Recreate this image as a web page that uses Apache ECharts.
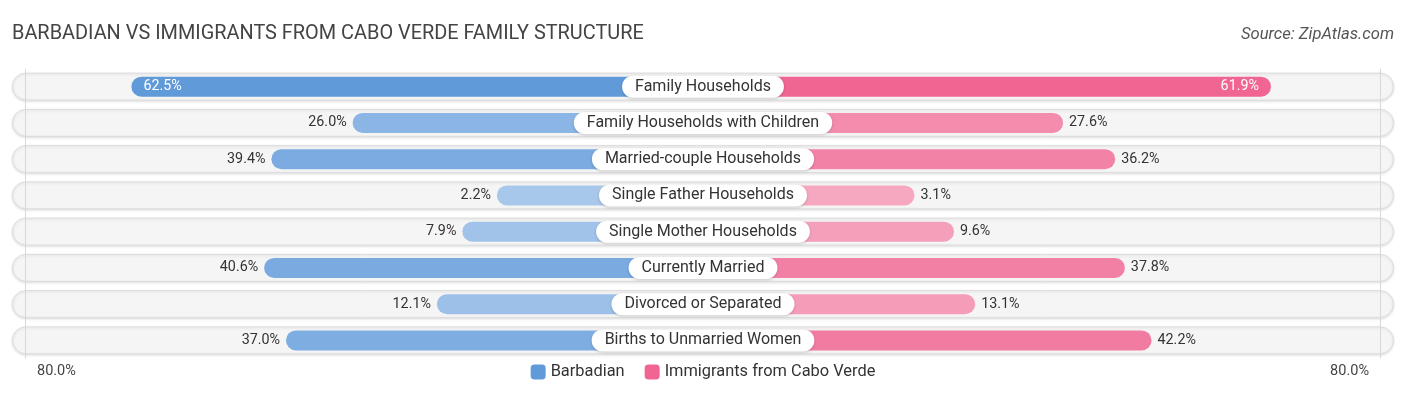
<!DOCTYPE html>
<html>
<head>
<meta charset="utf-8">
<script src="https://cdn.jsdelivr.net/npm/echarts@6/dist/echarts.min.js"></script>
<style>
html,body{margin:0;padding:0;background:#fff;}
#chart{width:1406px;height:395px;}
</style>
</head>
<body>
<div id="chart"></div>
<script>
const CATEGORIES = [
  'Family Households',
  'Family Households with Children',
  'Married-couple Households',
  'Single Father Households',
  'Single Mother Households',
  'Currently Married',
  'Divorced or Separated',
  'Births to Unmarried Women'
];
const BARBADIAN = [62.5, 26.0, 39.4, 2.2, 7.9, 40.6, 12.1, 37.0];
const CABO_VERDE = [61.9, 27.6, 36.2, 3.1, 9.6, 37.8, 13.1, 42.2];
const TICK_LABELS = ['80.0%', '80.0%'];
const SERIES_NAMES = ['Barbadian', 'Immigrants from Cabo Verde'];

// layout constants (axis units): bars start behind the centre label
const OFFSET = 31.8;
const HALF = 114;
const INSIDE_MIN = 50;

function hex(c){return [parseInt(c.slice(1,3),16),parseInt(c.slice(3,5),16),parseInt(c.slice(5,7),16)];}
function mix(a,b,t){const A=hex(a),B=hex(b);return 'rgb('+A.map((x,i)=>Math.round(x+(B[i]-x)*t)).join(',')+')';}
const BLUE_STRONG='#609ad9', BLUE_LIGHT='#aac9ec';
const PINK_STRONG='#f06592', PINK_LIGHT='#f6abc2';

function barData(vals, sign, strong, light){
  return vals.map(v=>{
    const t = Math.min(1, v/62);
    const inside = v > INSIDE_MIN;
    return {
      value: sign*(OFFSET+v),
      itemStyle:{color: mix(light, strong, t)},
      label:{
        position: inside ? (sign<0?'insideLeft':'insideRight') : (sign<0?'left':'right'),
        distance: inside ? 12 : 6,
        color: inside ? '#ffffff' : '#333333'
      }
    };
  });
}

const chart = echarts.init(document.getElementById('chart'));
chart.setOption({
  animation:false,
  textStyle:{fontFamily:'Roboto'},
  title:[
    {text:'BARBADIAN VS IMMIGRANTS FROM CABO VERDE FAMILY STRUCTURE', left:12, top:24, padding:0,
     textStyle:{fontSize:19.9, fontWeight:'normal', color:'#444', fontFamily:'Roboto'}},
    {text:'Source: ZipAtlas.com', right:12, top:26, padding:0,
     textStyle:{fontSize:16.6, fontWeight:'normal', fontStyle:'italic', color:'#555', fontFamily:'Roboto'}}
  ],
  legend:{
    data:SERIES_NAMES, left:'center', top:359, itemWidth:15, itemHeight:15, itemGap:20,
    icon:'roundRect',
    textStyle:{fontSize:16.4, color:'#333', fontFamily:'Roboto'}
  },
  grid:[
    {left:12, right:12, top:68.5, bottom:36.5},
    {left:37, right:37, top:340, height:18}
  ],
  xAxis:[
    {type:'value', gridIndex:0, min:-HALF, max:HALF, show:false},
    {type:'value', gridIndex:1, min:-80, max:80, interval:160,
     axisLine:{show:false}, axisTick:{show:false}, splitLine:{show:false},
     axisLabel:{show:true, margin:6, fontSize:14.5, color:'#444', fontFamily:'Roboto',
       alignMinLabel:'left', alignMaxLabel:'right',
       formatter:(v)=> v<0 ? TICK_LABELS[0] : TICK_LABELS[1]}}
  ],
  yAxis:[
    {type:'category', gridIndex:0, data:CATEGORIES, inverse:true, show:false},
    {type:'value', gridIndex:1, show:false}
  ],
  series:[
    {
      type:'custom', xAxisIndex:0, yAxisIndex:0, z:1, silent:true,
      data:CATEGORIES.map((c,i)=>[0,i]),
      encode:{x:0,y:1},
      renderItem:(params, api)=>{
        const y = api.coord([0, api.value(1)])[1];
        const cs = params.coordSys;
        const h = 27;
        return {
          type:'rect',
          shape:{x:cs.x+0.5, y:y-h/2, width:cs.width-1, height:h, r:h/2},
          style:{fill:'#f5f5f5', stroke:'#dcdcdc', lineWidth:1,
                 shadowBlur:3, shadowColor:'rgba(0,0,0,0.12)', shadowOffsetY:1}
        };
      }
    },
    {
      name:SERIES_NAMES[0], type:'bar', xAxisIndex:0, yAxisIndex:0, z:3,
      barWidth:20, barGap:'-100%',
      itemStyle:{color:BLUE_STRONG, borderRadius:10},
      data:barData(BARBADIAN, -1, BLUE_STRONG, BLUE_LIGHT),
      label:{show:true, fontSize:14.3, fontFamily:'Roboto',
        formatter:(p)=>BARBADIAN[p.dataIndex].toFixed(1)+'%'},
      markLine:{silent:true, symbol:'none', label:{show:false},
        lineStyle:{color:'#d8d8d8', width:1, type:'solid'},
        data:[{xAxis:-(80+OFFSET)},{xAxis:80+OFFSET}]}
    },
    {
      name:SERIES_NAMES[1], type:'bar', xAxisIndex:0, yAxisIndex:0, z:3,
      barWidth:20, barGap:'-100%',
      itemStyle:{color:PINK_STRONG, borderRadius:10},
      data:barData(CABO_VERDE, 1, PINK_STRONG, PINK_LIGHT),
      label:{show:true, fontSize:14.3, fontFamily:'Roboto',
        formatter:(p)=>CABO_VERDE[p.dataIndex].toFixed(1)+'%'}
    },
    {
      type:'scatter', xAxisIndex:0, yAxisIndex:0, z:10, silent:true,
      symbolSize:0, itemStyle:{opacity:1},
      data:CATEGORIES.map((c,i)=>[0,i]),
      label:{show:true, position:'inside', fontSize:16, color:'#333', fontFamily:'Roboto',
        backgroundColor:'#fff', borderRadius:12, padding:[3,13,3,13],
        shadowBlur:3, shadowColor:'rgba(0,0,0,0.18)', shadowOffsetY:1,
        formatter:(p)=>CATEGORIES[p.dataIndex]}
    }
  ]
});
</script>
</body>
</html>
